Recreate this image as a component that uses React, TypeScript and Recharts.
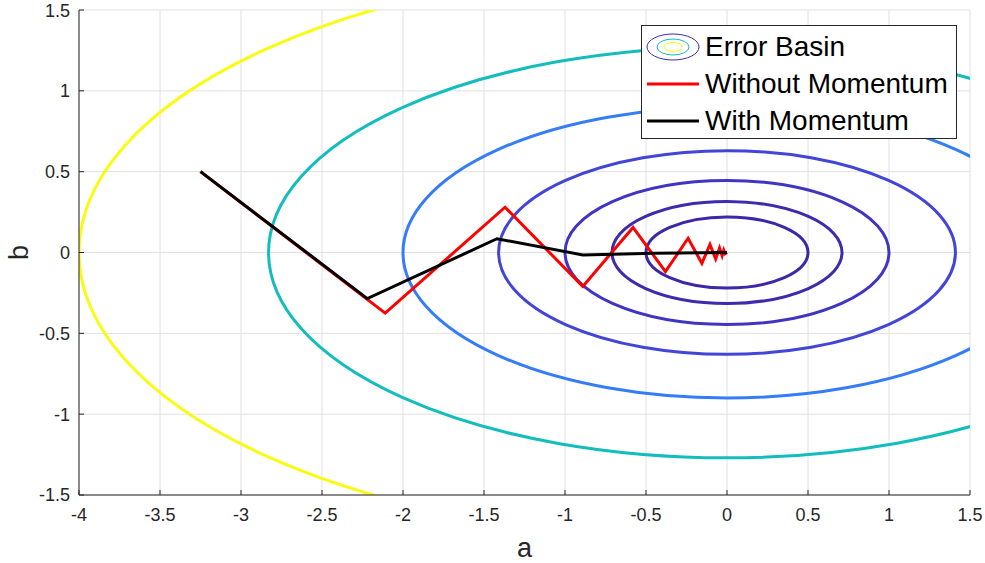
import React from "react";
import { CartesianGrid, Legend, Line, LineChart, ReferenceArea, XAxis, YAxis } from "recharts";

const xTicks = [-4, -3.5, -3, -2.5, -2, -1.5, -1, -0.5, 0, 0.5, 1, 1.5];
const yTicks = [-1.5, -1, -0.5, 0, 0.5, 1, 1.5];

// error basin contours, centred on (0,0): half widths along a and b
const basinA = [0.5, 0.71, 1.0, 1.41, 2.0, 2.83, 4.0];
const basinB = [0.22, 0.315, 0.445, 0.63, 0.9, 1.27, 1.79];
const basinColors = ["#3e26a8", "#3f2aae", "#4035c2", "#4344d8", "#357df8", "#14bdbd", "#f9fb15"];

// descent paths
const plainA = [-3.25, -2.11, -1.37, -0.89, -0.58, -0.38, -0.24, -0.155, -0.105, -0.07, -0.046, -0.03, -0.02, -0.012, 0];
const plainB = [0.5, -0.375, 0.28, -0.21, 0.155, -0.118, 0.088, -0.067, 0.05, -0.04, 0.028, -0.02, 0.014, -0.008, 0];
const momentumA = [-3.25, -2.22, -1.42, -0.89, -0.45, 0];
const momentumB = [0.5, -0.285, 0.085, -0.015, -0.005, 0];

const plainData = plainA.map((a, i) => ({ a, b: plainB[i] }));
const momentumData = momentumA.map((a, i) => ({ a, b: momentumB[i] }));

const FONT = "'Liberation Sans', Arial, Helvetica, sans-serif";
const AXIS = "#262626";

const ellipse = (color: string) => (p: any) => (
  <ellipse
    cx={p.x + p.width / 2}
    cy={p.y + p.height / 2}
    rx={p.width / 2}
    ry={p.height / 2}
    fill="none"
    stroke={color}
    strokeWidth={3}
    clipPath={p.clipPath}
  />
);

const noTick = () => <g />;

function LegendBox() {
  const row: React.CSSProperties = { display: "flex", alignItems: "center", height: 36.7 };
  const text: React.CSSProperties = { marginLeft: 5, fontSize: 28, color: "#000", lineHeight: "30px" };
  return (
    <div
      style={{
        boxSizing: "border-box",
        width: 316,
        height: 114,
        border: "1px solid #262626",
        background: "#fff",
        paddingTop: 3,
        paddingLeft: 4,
        fontFamily: FONT,
      }}
    >
      <div style={row}>
        <svg width={54} height={30}>
          <ellipse cx={27} cy={15} rx={26} ry={13} fill="none" stroke={basinColors[1]} strokeWidth={1} />
          <ellipse cx={27} cy={15} rx={16} ry={8} fill="none" stroke={basinColors[5]} strokeWidth={1} />
          <ellipse cx={27} cy={15} rx={9} ry={4.5} fill="none" stroke={basinColors[6]} strokeWidth={1} />
        </svg>
        <span style={text}>Error Basin</span>
      </div>
      <div style={row}>
        <svg width={54} height={30}>
          <line x1={1} x2={53} y1={15} y2={15} stroke="#ff0000" strokeWidth={3} />
        </svg>
        <span style={text}>Without Momentum</span>
      </div>
      <div style={row}>
        <svg width={54} height={30}>
          <line x1={1} x2={53} y1={15} y2={15} stroke="#000" strokeWidth={3} />
        </svg>
        <span style={text}>With Momentum</span>
      </div>
    </div>
  );
}

export default function App() {
  return (
    <div style={{ position: "absolute", left: 0, top: 0, fontFamily: FONT }}>
      <LineChart width={985} height={563} margin={{ top: 10, right: 15, bottom: 0, left: 0 }}>
        <CartesianGrid stroke="#e0e0e0" strokeWidth={1} />
        <XAxis
          type="number"
          dataKey="a"
          domain={[-4, 1.5]}
          ticks={xTicks}
          allowDataOverflow
          height={68}
          tickSize={-5}
          tickMargin={18}
          stroke={AXIS}
          tick={{ fill: AXIS, fontSize: 18, fontFamily: FONT }}
          label={({ viewBox }: any) => (
            <text
              x={viewBox.x + viewBox.width / 2}
              y={viewBox.y + 62}
              textAnchor="middle"
              fontSize={27}
              fill={AXIS}
              fontFamily={FONT}
            >
              a
            </text>
          )}
        />
        <XAxis
          xAxisId="top"
          orientation="top"
          type="number"
          domain={[-4, 1.5]}
          ticks={xTicks}
          allowDataOverflow
          height={0}
          tickSize={-5}
          stroke={AXIS}
          tick={noTick}
        />
        <YAxis
          type="number"
          domain={[-1.5, 1.5]}
          ticks={yTicks}
          allowDataOverflow
          width={79}
          tickSize={-5}
          tickMargin={14}
          stroke={AXIS}
          tick={{ fill: AXIS, fontSize: 18, fontFamily: FONT }}
          label={({ viewBox }: any) => {
            const x = 28;
            const y = viewBox.y + viewBox.height / 2;
            return (
              <text
                x={x}
                y={y}
                transform={`rotate(-90, ${x}, ${y})`}
                textAnchor="middle"
                fontSize={27}
                fill={AXIS}
                fontFamily={FONT}
              >
                b
              </text>
            );
          }}
        />
        <YAxis
          yAxisId="right"
          orientation="right"
          type="number"
          domain={[-1.5, 1.5]}
          ticks={yTicks}
          allowDataOverflow
          width={0}
          tickSize={-5}
          stroke={AXIS}
          tick={noTick}
        />
        {basinA.map((ra, i) => (
          <ReferenceArea
            key={i}
            x1={-ra}
            x2={ra}
            y1={-basinB[i]}
            y2={basinB[i]}
            ifOverflow="hidden"
            shape={ellipse(basinColors[i])}
          />
        ))}
        <Line
          data={plainData}
          dataKey="b"
          name="Without Momentum"
          stroke="#ff0000"
          strokeWidth={3}
          dot={false}
          isAnimationActive={false}
        />
        <Line
          data={momentumData}
          dataKey="b"
          name="With Momentum"
          stroke="#000000"
          strokeWidth={3}
          dot={false}
          isAnimationActive={false}
        />
        <Legend
          layout="vertical"
          align="center"
          verticalAlign="middle"
          wrapperStyle={{ left: 641, top: 25, width: 316, height: 114 }}
          content={() => <LegendBox />}
        />
      </LineChart>
    </div>
  );
}
